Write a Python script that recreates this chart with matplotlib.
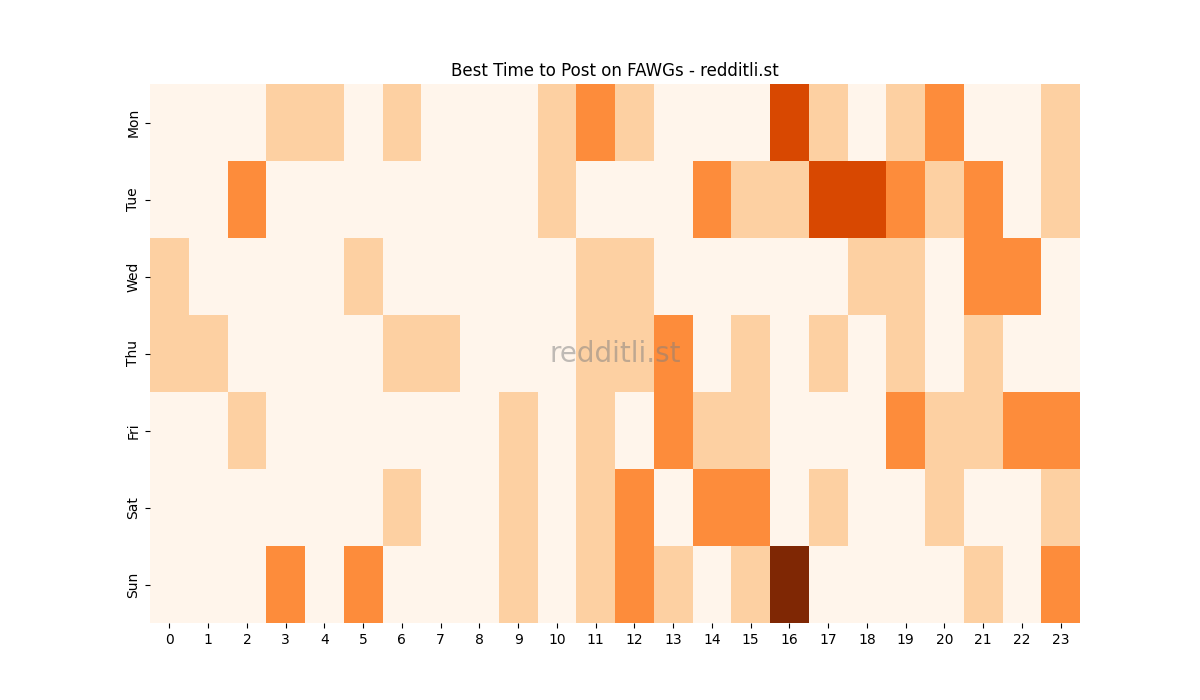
import matplotlib
matplotlib.use("Agg")
import matplotlib.pyplot as plt
import seaborn as sns
import numpy as np

days = ["Mon", "Tue", "Wed", "Thu", "Fri", "Sat", "Sun"]
hours = list(range(24))
mon = [0,0,0,1,1,0,1,0,0,0,1,2,1,0,0,0,3,1,0,1,2,0,0,1]
tue = [0,0,2,0,0,0,0,0,0,0,1,0,0,0,2,1,1,3,3,2,1,2,0,1]
wed = [1,0,0,0,0,1,0,0,0,0,0,1,1,0,0,0,0,0,1,1,0,2,2,0]
thu = [1,1,0,0,0,0,1,1,0,0,0,1,1,2,0,1,0,1,0,1,0,1,0,0]
fri = [0,0,1,0,0,0,0,0,0,1,0,1,0,2,1,1,0,0,0,2,1,1,2,2]
sat = [0,0,0,0,0,0,1,0,0,1,0,1,2,0,2,2,0,1,0,0,1,0,0,1]
sun = [0,0,0,2,0,2,0,0,0,1,0,1,2,1,0,1,4,0,0,0,0,1,0,2]

data = np.array([mon, tue, wed, thu, fri, sat, sun])

fig, ax = plt.subplots(figsize=(12, 7), dpi=100)
sns.heatmap(data, cmap="Oranges", vmin=0, vmax=4, cbar=False, ax=ax,
            xticklabels=hours, yticklabels=days)
ax.set_title("Best Time to Post on FAWGs - redditli.st")
ax.text(0.5, 0.5, "redditli.st", transform=ax.transAxes, ha="center", va="center",
        fontsize=20, color="gray", alpha=0.5)
plt.savefig("out.png")
